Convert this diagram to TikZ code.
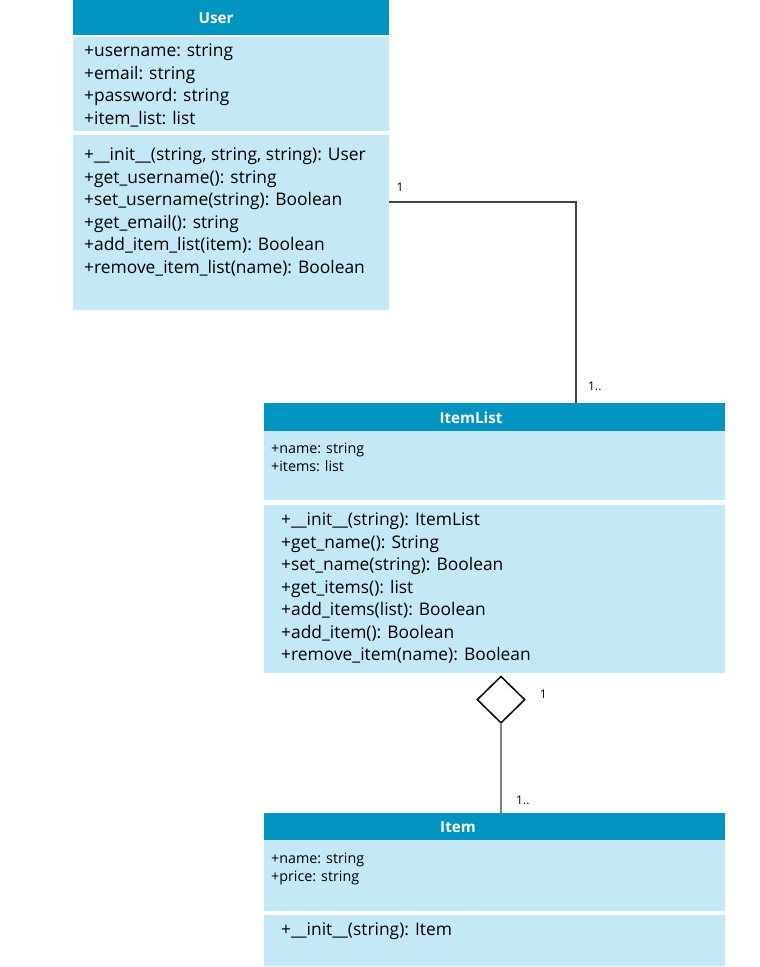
\documentclass[tikz,border=0pt]{standalone}
\usepackage{fontspec}
\setmainfont{Open Sans}
\usetikzlibrary{positioning,calc,shapes.geometric}

\definecolor{headblue}{RGB}{0,149,192}
\definecolor{bodyblue}{RGB}{197,232,247}
\definecolor{linkgray}{RGB}{68,68,68}

\begin{document}
\begin{tikzpicture}[
  x=1pt, y=-1pt,
  head/.style={
    rectangle, fill=headblue, inner sep=0pt,
    anchor=north west
  },
  compart/.style={
    rectangle, fill=bodyblue, inner sep=0pt,
    anchor=north west
  },
  title/.style={
    text=white, font=\fontsize{15.2}{18}\selectfont\bfseries, inner sep=0pt
  },
  members/.style={
    align=left, anchor=north west, inner sep=0pt,
    font=\fontsize{17.4}{22.5}\selectfont
  },
  smallmembers/.style={
    align=left, anchor=north west, inner sep=0pt,
    font=\fontsize{14.3}{18}\selectfont
  },
  mult/.style={font=\fontsize{12}{14}\selectfont, inner sep=0pt},
  assoc/.style={draw=linkgray, line width=1.3pt},
  aggline/.style={draw=gray, line width=1.3pt}
]

\useasboundingbox (0,0) rectangle (760,967);

% =====================================================
% USER
% =====================================================

\node[head, minimum width=316, minimum height=35] (userhead) at (73,0) {};
\node[title] (usertitle) at (216,18) {User};

\node[compart, minimum width=316, minimum height=94] (userattr) at (73,37) {};
\node[members] (userattrtext) at (84,44)
{+username: string\\
+email: string\\
+password: string\\
+item\_list: list};

\node[compart, minimum width=316, minimum height=175] (usermeth) at (73,135) {};
\node[members] (usermethtext) at (84,148)
{+\_\_init\_\_(string, string, string): User\\
+get\_username(): string\\
+set\_username(string): Boolean\\
+get\_email(): string\\
+add\_item\_list(item): Boolean\\
+remove\_item\_list(name): Boolean};

% =====================================================
% ITEMLIST
% =====================================================

\node[head, minimum width=461, minimum height=28] (ilhead) at (264,403) {};
\node[title] (iltitle) at (471,418) {ItemList};

\node[compart, minimum width=461, minimum height=69] (ilattr) at (264,431) {};
\node[smallmembers] (ilattrtext) at (271,443)
{+name: string\\
+items: list};

\node[compart, minimum width=461, minimum height=168] (ilmeth) at (264,505) {};
\node[members] (ilmethtext) at (281,513)
{+\_\_init\_\_(string): ItemList\\
+get\_name(): String\\
+set\_name(string): Boolean\\
+get\_items(): list\\
+add\_items(list): Boolean\\
+add\_item(): Boolean\\
+remove\_item(name): Boolean};

% =====================================================
% ITEM
% =====================================================

\node[head, minimum width=461, minimum height=27] (itemhead) at (264,813) {};
\node[title] (itemtitle) at (458,827) {Item};

\node[compart, minimum width=461, minimum height=71] (itemattr) at (264,840) {};
\node[smallmembers] (itemattrtext) at (271,853)
{+name: string\\
+price: string};

\node[compart, minimum width=461, minimum height=51] (itemmeth) at (264,915) {};
\node[members] (itemmethtext) at (281,923)
{+\_\_init\_\_(string): Item};

% =====================================================
% LINKS
% =====================================================

\coordinate (ulink) at ($(usermeth.north east)+(0,67)$);
\coordinate (ildrop) at ($(ilhead.north west)+(312,0)$);
\draw[assoc] (ulink) -| (ildrop);
\node[mult, anchor=south west] at ($(ulink)+(7,-10)$) {1};
\node[mult, anchor=south west] at ($(ildrop)+(12,-12)$) {1..};

\node[diamond, draw=black, fill=white, line width=1.5pt, inner sep=0pt,
  minimum width=48, minimum height=47, anchor=north] (agg)
  at ($(ilmeth.south west)+(237,2)$) {};
\draw[aggline] (agg.south) -- (agg.south |- itemhead.north);
\node[mult, anchor=west] at ($(agg.east)+(14,-5)$) {1};
\node[mult, anchor=south west] at ($(agg.south |- itemhead.north)+(15,-8)$) {1..};

\end{tikzpicture}
\end{document}
